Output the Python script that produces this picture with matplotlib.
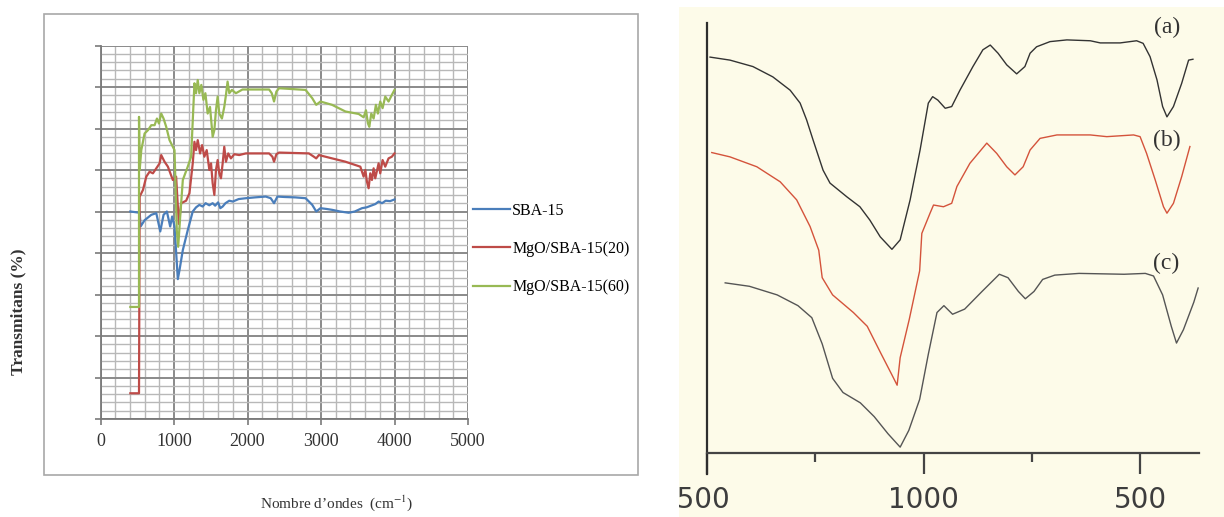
import matplotlib.pyplot as plt
from matplotlib.patches import Rectangle
from matplotlib.ticker import MultipleLocator
from matplotlib import transforms

W, H = 1224, 517

# ---- left panel: FTIR, wavenumber (cm-1) vs transmittance level (no y labels)
sba_x = [406, 533, 546, 600, 691, 759, 813, 858, 903, 948, 975, 1007, 1052, 1075,
         1120, 1187, 1255, 1300, 1345, 1390, 1430, 1480, 1526, 1560, 1600, 1630,
         1662, 1700, 1752, 1800, 1880, 1978, 2100, 2248, 2316, 2361, 2407, 2500,
         2650, 2790, 2881, 2935, 2993, 3080, 3151, 3260, 3377, 3460, 3558, 3620,
         3680, 3740, 3784, 3830, 3880, 3940, 4000]
sba_y = [5.0, 4.97, 4.64, 4.79, 4.92, 4.96, 4.52, 4.92, 5.0, 4.64, 4.88, 4.64, 3.37, 3.59,
         4.07, 4.55, 5.0, 5.1, 5.16, 5.12, 5.2, 5.15, 5.2, 5.14, 5.22, 5.08,
         5.12, 5.2, 5.26, 5.24, 5.3, 5.32, 5.34, 5.36, 5.32, 5.2, 5.36, 5.35,
         5.34, 5.32, 5.16, 5.0, 5.08, 5.06, 5.04, 5.0, 4.97, 5.0, 5.08, 5.1,
         5.14, 5.18, 5.24, 5.2, 5.26, 5.25, 5.29]

mg20_x = [406, 524, 533, 578, 623, 668, 713, 759, 804, 826, 871, 917, 984, 1029,
          1066, 1097, 1165, 1210, 1255, 1278, 1300, 1323, 1355, 1382, 1413, 1445,
          1481, 1504, 1526, 1549, 1571, 1594, 1616, 1639, 1662, 1684, 1707, 1738,
          1774, 1820, 1887, 1978, 2294, 2339, 2361, 2393, 2429, 2835, 2903, 2935,
          2971, 3151, 3332, 3467, 3535, 3580, 3603, 3625, 3648, 3670, 3693, 3716,
          3738, 3784, 3806, 3838, 3874, 3919, 3964, 4000]
mg20_y = [0.62, 0.62, 5.36, 5.52, 5.84, 5.96, 5.92, 6.04, 6.16, 6.36, 6.2, 6.08, 5.76, 5.84,
          4.7, 5.2, 5.26, 5.44, 6.16, 6.68, 6.48, 6.72, 6.4, 6.6, 6.32, 6.48,
          6.0, 6.16, 5.68, 5.4, 6.0, 6.24, 5.92, 5.8, 6.16, 6.56, 6.2, 6.4,
          6.28, 6.38, 6.36, 6.4, 6.4, 6.32, 6.2, 6.38, 6.42, 6.4, 6.32, 6.28,
          6.36, 6.28, 6.2, 6.12, 6.08, 5.84, 6.0, 5.72, 5.56, 5.92, 5.76, 6.04,
          5.8, 6.16, 5.92, 6.24, 6.08, 6.28, 6.32, 6.4]

mg60_x = [406, 524, 524, 533, 555, 600, 646, 691, 736, 768, 795, 826, 858, 894,
          939, 984, 1007, 1038, 1057, 1084, 1120, 1187, 1233, 1278, 1300, 1323,
          1345, 1372, 1400, 1427, 1458, 1490, 1526, 1549, 1571, 1594, 1616, 1652,
          1684, 1707, 1729, 1752, 1788, 1842, 1932, 2068, 2294, 2330, 2361, 2393,
          2429, 2790, 2881, 2935, 2993, 3151, 3332, 3513, 3580, 3612, 3639, 3657,
          3684, 3716, 3747, 3774, 3806, 3838, 3874, 3919, 3964, 4000]
mg60_y = [2.7, 2.7, 7.28, 6.0, 6.48, 6.88, 6.96, 7.08, 7.08, 7.24, 7.12, 7.36, 7.24, 7.04,
          6.72, 6.56, 6.48, 4.55, 4.15, 4.87, 5.76, 6.08, 6.32, 8.09, 7.85, 8.17,
          7.85, 8.05, 7.69, 7.85, 7.36, 7.52, 6.8, 6.96, 7.44, 7.77, 7.36, 7.24,
          7.52, 7.81, 8.13, 7.85, 7.93, 7.85, 7.94, 7.94, 7.94, 7.85, 7.65, 7.89,
          7.97, 7.93, 7.73, 7.57, 7.65, 7.57, 7.41, 7.35, 7.27, 7.44, 7.12, 7.04,
          7.36, 7.24, 7.57, 7.36, 7.65, 7.49, 7.77, 7.65, 7.81, 7.93]

left_labels = ['SBA-15', 'MgO/SBA-15(20)', 'MgO/SBA-15(60)']
left_colors = ['#4a7ebb', '#be4b48', '#98b954']

# ---- right panel: FTIR curves (a), (b), (c), wavenumber vs transmittance (a.u.)
a_x = [1493, 1447, 1394, 1348, 1308, 1285, 1270, 1255, 1232, 1216, 1177, 1147, 1124,
       1100, 1073, 1054, 1031, 1008, 989, 979, 967, 950, 935, 916, 886, 863, 846,
       828, 808, 785, 766, 754, 739, 708, 669, 615, 592, 546, 508, 493, 477, 461,
       448, 438, 423, 404, 388, 378]
a_y = [92.0, 91.3, 89.8, 87.4, 84.3, 81.3, 77.4, 72.7, 65.7, 62.7, 59.5, 57.2, 54.1,
       50.2, 47.3, 49.5, 58.8, 70.4, 81.3, 82.8, 82.0, 80.1, 80.5, 84.3, 89.8, 93.7, 94.8,
       92.9, 90.2, 88.1, 89.8, 92.9, 94.4, 95.6, 96.0, 95.8, 95.3, 95.3, 95.8, 95.2, 92.1, 86.7,
       80.5, 78.1, 80.5, 85.9, 91.3, 91.5]

b_x = [1489, 1447, 1385, 1331, 1293, 1262, 1242, 1234, 1210, 1162, 1130, 1098, 1073,
       1061, 1054, 1033, 1009, 1004, 985, 977, 954, 935, 923, 893, 854, 831, 808,
       789, 770, 754, 731, 692, 615, 577, 515, 500, 485, 465, 446, 438, 423, 404, 385]
b_y = [69.8, 68.8, 66.5, 63.0, 58.8, 52.6, 47.1, 40.7, 36.7, 32.6, 29.4, 23.0, 18.1,
       15.7, 22.1, 31.0, 42.3, 51.0, 55.7, 57.6, 57.2, 58.0, 61.9, 67.3, 72.0, 69.6, 66.5,
       64.6, 66.5, 70.4, 73.1, 73.9, 73.9, 73.5, 73.9, 73.5, 69.6, 63.4, 57.2, 55.7, 58.0,
       64.2, 71.2]

c_x = [1458, 1402, 1338, 1290, 1258, 1234, 1210, 1186, 1146, 1114, 1082, 1054, 1034,
       1009, 989, 969, 953, 933, 905, 865, 825, 805, 781, 765, 745, 725, 697, 641,
       537, 488, 469, 448, 428, 416, 400, 376, 366]
c_y = [39.5, 38.7, 36.7, 34.2, 31.4, 25.3, 17.3, 14.0, 11.6, 8.4, 4.4, 1.3, 5.2,
       12.4, 22.9, 32.6, 34.2, 32.2, 33.4, 37.5, 41.5, 40.7, 37.5, 35.8, 37.5, 40.3, 41.3, 41.7,
       41.5, 41.7, 41.1, 36.7, 29.4, 25.5, 28.6, 35.0, 38.3]

right_labels = ['(a)', '(b)', '(c)']
right_colors = ['#333333', '#d4533b', '#555555']
label_pos = [(438, 98.8), (438, 72.7), (440, 43.9)]

plt.rcParams['mathtext.fontset'] = 'stix'
fig = plt.figure(figsize=(W / 100, H / 100), dpi=100, facecolor='white')

# frame around the left chart, cream background of the right picture (behind the axes)
fig.patches.append(Rectangle((44 / W, 1 - 475 / H), 594 / W, 461 / H, transform=fig.transFigure,
                             fill=False, edgecolor='#a8a8a8', linewidth=1.2, zorder=-2))
fig.patches.append(Rectangle((679 / W, 0), 1 - 679 / W, 1 - 7 / H, transform=fig.transFigure,
                             facecolor='#fdfbe9', edgecolor='none', zorder=-2))

# ---- left chart
ax = fig.add_axes([100.5 / W, 1 - 419 / H, 367.5 / W, 373.5 / H])
ax.set_xlim(0, 5000)
ax.set_ylim(0, 9)
ax.xaxis.set_major_locator(MultipleLocator(1000))
ax.xaxis.set_minor_locator(MultipleLocator(200))
ax.yaxis.set_major_locator(MultipleLocator(1))
ax.yaxis.set_minor_locator(MultipleLocator(0.2))
ax.grid(which='major', color='#8a8a8a', linewidth=1.4)
ax.grid(which='minor', color='#b8b8b8', linewidth=1.0)
ax.set_axisbelow(True)
for s in ['top', 'right']:
    ax.spines[s].set_visible(False)
for s in ['left', 'bottom']:
    ax.spines[s].set_color('#7a7a7a')
    ax.spines[s].set_linewidth(1.3)
ax.tick_params(which='major', direction='out', length=4, color='#7a7a7a', width=1.2,
               labelleft=False, labelsize=13, labelcolor='#333333', pad=6)
ax.tick_params(which='minor', length=0)
for lab in ax.get_xticklabels():
    lab.set_family('Liberation Serif')

ax.plot(sba_x, sba_y, color=left_colors[0], linewidth=1.6, label=left_labels[0])
ax.plot(mg20_x, mg20_y, color=left_colors[1], linewidth=1.6, label=left_labels[1])
ax.plot(mg60_x, mg60_y, color=left_colors[2], linewidth=1.6, label=left_labels[2])

ax.legend(loc='center left', bbox_to_anchor=(473 / W, 1 - 249 / H), bbox_transform=fig.transFigure,
          frameon=False, borderpad=0, borderaxespad=0, handlelength=2.3, handletextpad=0.15,
          labelspacing=1.4, prop={'family': 'Liberation Serif', 'size': 11.5})

fig.text(18 / W, 1 - 312 / H, 'Transmitans (%)', rotation=90, ha='center', va='center',
         family='Liberation Serif', weight='bold', size=12.5, color='#333333')
fig.text(337 / W, 1 - 503 / H, 'Nombre d\u2019ondes  (cm$^{-1}$)', ha='center', va='center',
         family='Liberation Serif', size=11, color='#333333')

# ---- right picture
ax2 = fig.add_axes([707 / W, 1 - 474 / H, (1199 - 707) / W, (474 - 23) / H])
ax2.patch.set_visible(False)
ax2.set_xlim(1500, 364)
ax2.set_ylim(-4.95, 99.93)
for s in ['top', 'right']:
    ax2.spines[s].set_visible(False)
ax2.spines['left'].set_color('#2e2e2e')
ax2.spines['left'].set_linewidth(1.6)
ax2.spines['bottom'].set_position(('data', 0))
ax2.spines['bottom'].set_color('#444444')
ax2.spines['bottom'].set_linewidth(1.6)
ax2.set_xticks([1500, 1000, 500])
ax2.set_xticks([1250, 750], minor=True)
ax2.set_yticks([])
ax2.tick_params(axis='x', which='major', direction='out', length=15.3, width=1.6,
                color='#444444', labelsize=20, labelcolor='#3d3d3d', pad=9)
ax2.tick_params(axis='x', which='minor', direction='out', length=6.5, width=1.6, color='#444444')

clip = transforms.TransformedBbox(transforms.Bbox.from_extents(679 / W, 0, 1, 1), fig.transFigure)
for i, lab in enumerate(ax2.get_xticklabels()):
    lab.set_family('DejaVu Sans')
    lab.set_clip_box(clip)
    lab.set_clip_on(True)
    if i == 0:
        lab.set_transform(lab.get_transform() + transforms.ScaledTranslation(-0.13, 0, fig.dpi_scale_trans))

for xs, ys, col in [(a_x, a_y, right_colors[0]), (b_x, b_y, right_colors[1]), (c_x, c_y, right_colors[2])]:
    ax2.plot(xs, ys, color=col, linewidth=1.0)

for lab, (px, py) in zip(right_labels, label_pos):
    ax2.text(px, py, lab, ha='center', va='center', family='Liberation Serif', size=17, color='#333333')

fig.savefig('out.png', dpi=100, facecolor='white')
